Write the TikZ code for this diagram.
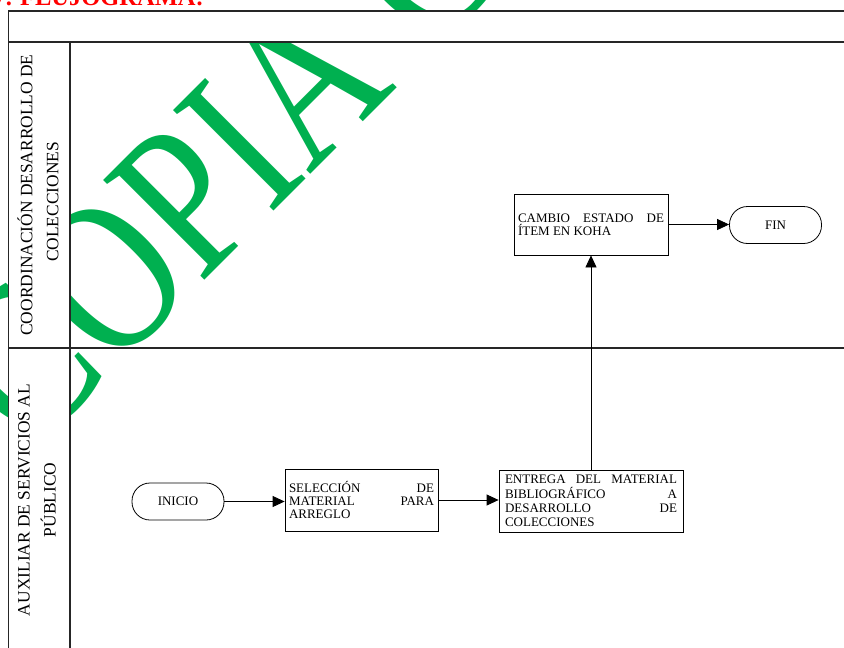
\documentclass[tikz,border=0pt]{standalone}
\usepackage{fontspec}
\setmainfont{Liberation Serif}
\usetikzlibrary{arrows.meta}
\definecolor{wmgreen}{RGB}{0,176,80}
\definecolor{titlered}{RGB}{255,0,0}
% boxed step texts: justified, never hyphenated
\tolerance=10000
\hyphenpenalty=10000
\exhyphenpenalty=10000
\begin{document}
\begin{tikzpicture}[x=1pt,y=-1pt,
  lane/.style={line width=1.2pt, draw=black!85},
  stepbox/.style={draw, line width=0.8pt, rectangle, inner xsep=4pt, inner ysep=2pt,
    align=justify, font=\fontsize{13}{13}\selectfont},
  terminal/.style={draw, line width=0.8pt, rounded corners=18pt, minimum width=92pt,
    minimum height=37pt, font=\fontsize{13}{14}\selectfont},
  flow/.style={line width=0.8pt, -{Triangle[length=12pt,width=11pt]}},
  lanelabel/.style={rotate=90, align=center, inner sep=0pt, font=\fontsize{17.4}{26}\selectfont}
]
\useasboundingbox (0,0) rectangle (844,648);
\clip (0,0) rectangle (844,648);

% watermark, shown only outside the table's title row and lane title column
\begin{scope}
  \clip (0,0) rectangle (844,11) (0,0) rectangle (8.5,648) (70,42) rectangle (844,648);
  \node[anchor=base west, rotate=45, inner sep=0pt, text=wmgreen] (wm) at (30.2,454.8)
    {\scalebox{0.8}[1]{\fontsize{217}{217}\selectfont COPIA CONTROLADA}};
\end{scope}

% heading
\node[anchor=base east, inner sep=0pt, text=titlered,
  font=\fontsize{24.5}{24.5}\selectfont\bfseries] (title) at (204,5.5) {7. FLUJOGRAMA:};

% table rules
\draw[lane] (850,11) -- (8.5,11) -- (8.5,660);
\draw[lane] (8.5,42) -- (850,42);
\draw[lane] (70,42) -- (70,660);
\draw[lane] (8.5,348) -- (850,348);

% lane titles
\node[lanelabel] (lane1) at (38,195) {COORDINACIÓN DESARROLLO DE\\COLECCIONES\hspace*{14pt}};
\node[lanelabel] (lane2) at (37,500) {AUXILIAR DE SERVICIOS AL\\PÚBLICO};

% flow
\node[terminal] (inicio) at (178,501.5) {INICIO};
\node[stepbox, text width=145pt, minimum height=62pt] (sel) at (361.5,500)
  {SELECCIÓN DE MATERIAL PARA ARREGLO};
\node[stepbox, text width=172pt, inner xsep=6pt, minimum height=62pt,
  font=\fontsize{13}{14.4}\selectfont] (ent) at (591,501)
  {ENTREGA DEL MATERIAL BIBLIOGRÁFICO A DESARROLLO DE COLECCIONES};
\node[stepbox, text width=146pt, minimum height=61pt] (cambio) at (591,224.5)
  {CAMBIO ESTADO DE ÍTEM EN KOHA};
\node[terminal] (fin) at (775.5,225) {FIN};

\draw[flow] (inicio.east) -- (inicio.east -| sel.west);
\draw[flow] (sel.east) -- (sel.east -| ent.west);
\draw[flow] (ent.north) -- (cambio.south);
\draw[flow] (cambio.east) -- (cambio.east -| fin.west);
\end{tikzpicture}
\end{document}
